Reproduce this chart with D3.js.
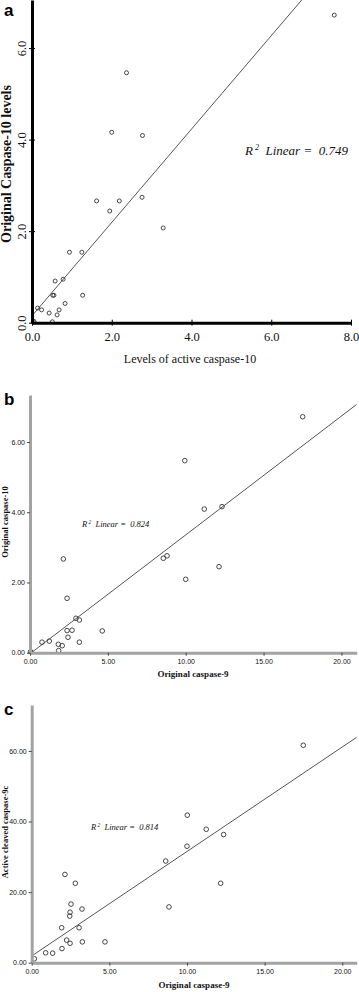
<!DOCTYPE html>
<html>
<head>
<meta charset="utf-8">
<script src="https://cdn.jsdelivr.net/npm/d3@7"></script>
<style>
  body { margin: 0; background: #fff; }
  svg { display: block; }
</style>
</head>
<body>
<script>
// panel a: active caspase-10 vs original caspase-10
const aX = [2.37, 2.00, 2.77, 7.58, 1.62, 2.19, 2.76, 1.95, 3.29, 0.94, 1.25, 0.58, 0.78, 0.52, 0.55, 1.27, 0.83, 0.14, 0.24, 0.43, 0.68, 0.63, 0.51, 0.03, 0.05];
const aY = [5.46, 4.16, 4.09, 6.72, 2.66, 2.66, 2.74, 2.44, 2.07, 1.54, 1.54, 0.91, 0.95, 0.60, 0.60, 0.60, 0.42, 0.32, 0.28, 0.21, 0.28, 0.17, 0.02, 0.01, 0.03];
const aFit = { intercept: 0.15, slope: 1.02, r2: '0.749' };
const aXTicks = [0, 2, 4, 6, 8];
const aYTicks = [0, 2, 4, 6];

// panel b: original caspase-9 vs original caspase-10
const bX = [2.14, 8.80, 8.56, 2.38, 2.95, 3.17, 2.38, 2.70, 4.64, 2.44, 0.77, 1.24, 3.17, 1.82, 2.07, 1.84, 0.04, 9.94, 17.51, 11.19, 12.33, 12.14, 10.00];
const bY = [2.67, 2.76, 2.69, 1.55, 0.98, 0.93, 0.63, 0.64, 0.62, 0.44, 0.30, 0.33, 0.30, 0.24, 0.20, 0.06, 0.03, 5.47, 6.72, 4.09, 4.16, 2.45, 2.09];
const bFit = { intercept: -0.03, slope: 0.3385, r2: '0.824' };
const bXTicks = [0, 5, 10, 15, 20];
const bYTicks = [0, 2, 4, 6];

// panel c: original caspase-9 vs active cleaved caspase-9c
const cX = [8.63, 2.14, 2.81, 2.53, 3.24, 2.47, 2.45, 8.84, 1.93, 3.05, 2.25, 3.26, 4.72, 2.47, 1.95, 0.90, 1.35, 0.17, 17.49, 10.02, 11.24, 12.36, 10.00, 12.17];
const cY = [28.8, 25.0, 22.5, 16.6, 15.2, 14.3, 13.2, 15.8, 9.9, 9.9, 6.4, 5.9, 5.9, 5.5, 4.0, 2.8, 2.7, 1.1, 61.6, 41.8, 37.8, 36.3, 33.0, 22.5];
const cFit = { intercept: 1.9, slope: 2.96, r2: '0.814' };
const cXTicks = [0, 5, 10, 15, 20];
const cYTicks = [0, 20, 40, 60];

const svg = d3.select('body').append('svg').attr('width', 359).attr('height', 992);
svg.append('rect').attr('width', 359).attr('height', 992).attr('fill', '#fff');

const serif = '"Liberation Serif", "Times New Roman", serif';
const sans = '"Liberation Sans", Arial, sans-serif';

function drawPanel(p) {
  const g = svg.append('g').attr('color', '#111');
  const xs = d3.scaleLinear().domain(p.xDomain).range(p.xRange);
  const ys = d3.scaleLinear().domain(p.yDomain).range(p.yRange);
  const pts = p.xs.map((v, i) => [v, p.ys[i]]);

  // clip for the fit line
  const clipId = 'clip-' + p.letter;
  svg.append('clipPath').attr('id', clipId).append('rect')
    .attr('x', p.xRange[0]).attr('y', p.yRange[1])
    .attr('width', p.xRange[1] - p.xRange[0]).attr('height', p.yRange[0] - p.yRange[1]);

  const lineGen = d3.line().x(d => xs(d[0])).y(d => ys(d[1]));
  const fitPts = [p.xDomain[0], p.xDomain[1]].map(x => [x, p.fit.intercept + p.fit.slope * x]);
  g.append('path').attr('d', lineGen(fitPts)).attr('clip-path', `url(#${clipId})`)
    .attr('fill', 'none').attr('stroke', '#555').attr('stroke-width', 1);

  g.selectAll('circle.pt').data(pts).enter().append('circle').attr('class', 'pt')
    .attr('cx', d => xs(d[0])).attr('cy', d => ys(d[1])).attr('r', p.r)
    .attr('fill', 'none').attr('stroke', '#333').attr('stroke-width', 0.9);

  // axes
  const xAxis = d3.axisBottom(xs).tickValues(p.xTicks).tickFormat(d3.format(p.fmt))
    .tickSizeInner(p.tick).tickSizeOuter(0).tickPadding(p.xPad);
  const xG = g.append('g').attr('transform', `translate(0,${p.yRange[0]})`).call(xAxis);
  const yAxis = d3.axisLeft(ys).tickValues(p.yTicks).tickFormat(d3.format(p.fmt))
    .tickSizeInner(p.tick).tickSizeOuter(0).tickPadding(p.yPad);
  const yG = g.append('g').attr('transform', `translate(${p.xRange[0]},0)`).call(yAxis);

  [xG, yG].forEach(ax => {
    ax.select('.domain').attr('stroke', p.axisColor).attr('stroke-width', 3);
    ax.selectAll('.tick line').attr('stroke', p.tickColor);
    ax.selectAll('.tick text').attr('fill', '#111').attr('font-family', p.tickFont).attr('font-size', p.tickSize);
  });
  if (p.crossTicks) {
    xG.selectAll('.tick line').attr('y1', -3).attr('y2', 3);
    yG.selectAll('.tick line').attr('x1', -3).attr('x2', 3);
  }
  if (p.rotYTicks) {
    yG.selectAll('.tick text').attr('x', null).attr('dy', null)
      .attr('text-anchor', 'middle')
      .attr('transform', `translate(${p.rotYTickX - p.xRange[0]},0) rotate(-90)`);
  }

  // titles
  g.append('text').text(p.xTitle).attr('x', p.xTitleX).attr('y', p.xTitleY)
    .attr('text-anchor', 'middle').attr('font-family', serif)
    .attr('font-weight', p.titleWeight).attr('font-size', p.titleSize).attr('fill', '#111');
  g.append('text').text(p.yTitle)
    .attr('transform', `translate(${p.yTitleX},${p.yTitleY}) rotate(-90)`)
    .attr('text-anchor', 'middle').attr('font-family', serif)
    .attr('font-weight', 'bold').attr('font-size', p.yTitleSize).attr('fill', '#111');

  // R squared annotation
  const r = g.append('text').attr('x', p.r2X).attr('y', p.r2Y)
    .attr('font-family', serif).attr('font-style', 'italic').attr('font-size', p.r2Size).attr('fill', '#111');
  r.append('tspan').text('R');
  r.append('tspan').text(' 2').attr('font-size', p.r2Size * 0.62).attr('dy', -p.r2Size * 0.4);
  r.append('tspan').attr('dy', p.r2Size * 0.4).attr('xml:space', 'preserve').text('  Linear =  ' + p.fit.r2);

  // panel letter
  svg.append('text').text(p.letter).attr('x', 4).attr('y', p.letterY)
    .attr('font-family', sans).attr('font-weight', 'bold').attr('font-size', 17).attr('fill', '#000');
}

drawPanel({
  letter: 'a', letterY: 16, xs: aX, ys: aY, fit: aFit,
  xDomain: [0, 8], xRange: [32, 351], yDomain: [0, 7.05], yRange: [322.7, 0],
  xTicks: aXTicks, yTicks: aYTicks, fmt: '.1f', r: 2,
  axisColor: '#000', tickColor: '#000', tick: 3, crossTicks: true,
  tickFont: serif, tickSize: 12.5, xPad: 6, yPad: 6, rotYTicks: true, rotYTickX: 26,
  xTitle: 'Levels of active caspase-10', xTitleX: 190, xTitleY: 363, titleWeight: 'normal', titleSize: 12,
  yTitle: 'Original Caspase-10 levels', yTitleX: 11, yTitleY: 164, yTitleSize: 14,
  r2X: 245, r2Y: 155, r2Size: 13
});

drawPanel({
  letter: 'b', letterY: 405, xs: bX, ys: bY, fit: bFit,
  xDomain: [0, 20.98], xRange: [30, 356.7], yDomain: [0, 7.34], yRange: [652.7, 395],
  xTicks: bXTicks, yTicks: bYTicks, fmt: '.2f', r: 2.3,
  axisColor: '#a3a3a3', tickColor: '#444', tick: 3, crossTicks: false,
  tickFont: sans, tickSize: 7, xPad: 3, yPad: 2, rotYTicks: false,
  xTitle: 'Original caspase-9', xTitleX: 193, xTitleY: 677, titleWeight: 'bold', titleSize: 9,
  yTitle: 'Original caspase-10', yTitleX: 8, yTitleY: 522, yTitleSize: 8.5,
  r2X: 82, r2Y: 527, r2Size: 8.5
});

drawPanel({
  letter: 'c', letterY: 715, xs: cX, ys: cY, fit: cFit,
  xDomain: [0, 20.93], xRange: [31.7, 356.7], yDomain: [0, 73], yRange: [962.7, 705],
  xTicks: cXTicks, yTicks: cYTicks, fmt: '.2f', r: 2.3,
  axisColor: '#a3a3a3', tickColor: '#444', tick: 3, crossTicks: false,
  tickFont: sans, tickSize: 7, xPad: 3, yPad: 2, rotYTicks: false,
  xTitle: 'Original caspase-9', xTitleX: 194, xTitleY: 988, titleWeight: 'bold', titleSize: 9,
  yTitle: 'Active cleaved caspase-9c', yTitleX: 8, yTitleY: 832, yTitleSize: 8.5,
  r2X: 91, r2Y: 830, r2Size: 8.5
});
</script>
</body>
</html>
